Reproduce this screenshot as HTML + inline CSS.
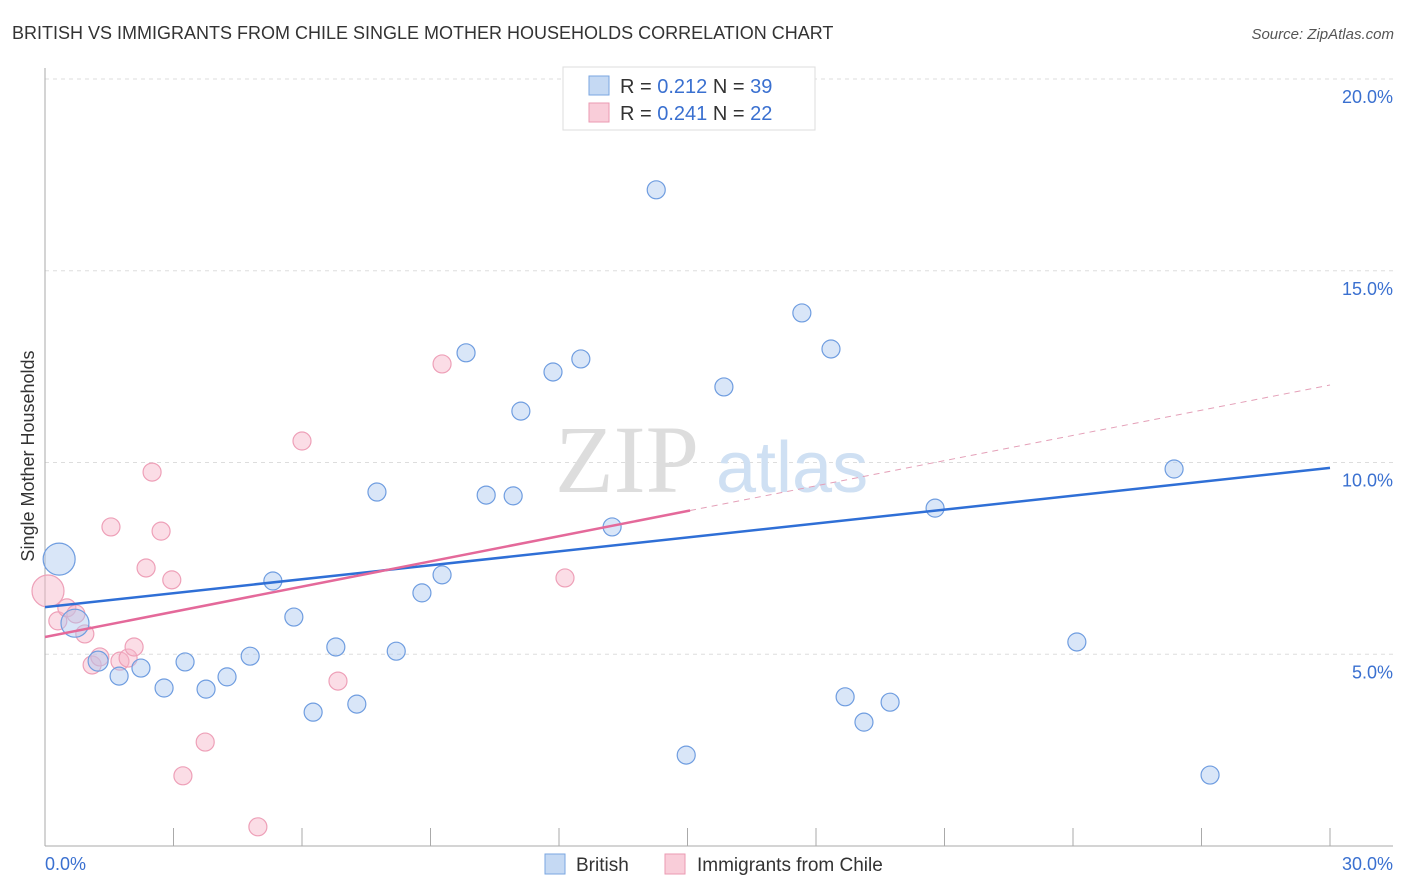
<!DOCTYPE html>
<html><head><meta charset="utf-8"><style>
body{margin:0;background:#fff;font-family:"Liberation Sans",sans-serif}
svg{display:block}
</style></head><body>
<svg width="1406" height="892" xmlns="http://www.w3.org/2000/svg">
<text x="12" y="39" font-size="18" fill="#333">BRITISH VS IMMIGRANTS FROM CHILE SINGLE MOTHER HOUSEHOLDS CORRELATION CHART</text>
<text x="1394" y="39" font-size="15" fill="#555" font-style="italic" text-anchor="end">Source: ZipAtlas.com</text>
<g id="grid"></g>
<text x="555" y="492" font-size="96" fill="#ddd" font-family="Liberation Serif">ZIP</text>
<text x="716" y="492" font-size="72" fill="#cfe0f3">atlas</text>
<text transform="translate(34,456) rotate(-90)" font-size="18" fill="#333" text-anchor="middle">Single Mother Households</text>
<g id="marks"></g>
<g>
<rect x="563" y="67" width="252" height="63" fill="#fff" stroke="#ddd"/>
<rect x="589" y="76" width="20" height="19" fill="#c5d9f3" stroke="#7aa6e0"/>
<rect x="589" y="103" width="20" height="19" fill="#f9cdd9" stroke="#eb9ab2"/>
<text x="620" y="93" font-size="20" fill="#333">R = <tspan fill="#3a70d0">0.212</tspan>   N = <tspan fill="#3a70d0">39</tspan></text>
<text x="620" y="120" font-size="20" fill="#333">R = <tspan fill="#3a70d0">0.241</tspan>   N = <tspan fill="#3a70d0">22</tspan></text>
</g>
<rect x="545" y="854" width="20" height="20" fill="#c5d9f3" stroke="#7aa6e0"/>
<text x="576" y="871" font-size="19" fill="#333">British</text>
<rect x="665" y="854" width="20" height="20" fill="#f9cdd9" stroke="#eb9ab2"/>
<text x="697" y="871" font-size="19" fill="#333">Immigrants from Chile</text>
<text x="45" y="870" font-size="18" fill="#3a70d0">0.0%</text>
<text x="1393" y="870" font-size="18" fill="#3a70d0" text-anchor="end">30.0%</text>
</svg>
<script>
const yTicks=[5,10,15,20];
const yTickLabels=["5.0%","10.0%","15.0%","20.0%"];
const xTicks=[0,3,6,9,12,15,18,21,24,27,30];
const britishX=[0.33,0.70,1.24,1.73,2.24,2.78,3.27,3.76,4.25,4.79,5.32,5.81,6.26,6.79,7.28,7.75,8.20,8.80,9.27,9.83,10.30,10.93,11.11,11.86,12.51,13.24,14.27,14.97,15.85,17.67,18.35,18.68,19.12,19.73,20.78,24.09,26.36,27.20];
const britishY=[7.48,5.81,4.82,4.43,4.64,4.12,4.80,4.09,4.41,4.95,6.91,5.97,3.49,5.19,3.70,9.23,5.08,6.60,7.07,12.86,9.15,9.13,11.34,12.36,12.70,8.32,17.11,2.37,11.97,13.90,12.96,3.89,3.23,3.75,8.81,5.32,9.83,1.85];
const britishR=[16,14,10,9,9,9,9,9,9,9,9,9,9,9,9,9,9,9,9,9,9,9,9,9,9,9,9,9,9,9,9,9,9,9,9,9,9,9];
const chileX=[0.07,0.30,0.51,0.72,0.93,1.10,1.28,1.54,1.75,1.94,2.08,2.36,2.50,2.71,2.96,3.22,3.74,4.97,6.00,6.84,9.27,12.14,12.89];
const chileY=[6.65,5.87,6.21,6.05,5.53,4.72,4.93,8.32,4.82,4.90,5.19,7.25,9.75,8.21,6.94,1.83,2.71,0.50,10.56,4.30,12.57,6.99,19.19];
const chileR=[16,9,9,9,9,9,9,9,9,9,9,9,9,9,9,9,9,9,9,9,9,9,9];
const britishTrend=[6.23,9.86];
const chileTrend=[5.45,12.02];
const chileSolidEnd=15.06;
const NS="http://www.w3.org/2000/svg";
const X=v=>45+v*(1330-45)/30;
const Y=v=>846-v*(846-79)/20;
function mk(tag,attrs,parent){const e=document.createElementNS(NS,tag);for(const k in attrs)e.setAttribute(k,attrs[k]);parent.appendChild(e);return e;}
const grid=document.getElementById('grid');
yTicks.forEach((t,i)=>{
 const l=mk('line',{x1:45,x2:1393,y1:Y(t),y2:Y(t),stroke:'#ddd','stroke-dasharray':'4,4'},grid);
 
 
 const tx=mk('text',{x:1393,y:Y(t)+24,'font-size':18,fill:'#3a70d0','text-anchor':'end'},grid);
 tx.textContent=yTickLabels[i];
 
 
});
const ax=mk('line',{x1:45,x2:45,y1:68,y2:846,stroke:'#aaa'},grid);


const bx=mk('line',{x1:45,x2:1393,y1:846,y2:846,stroke:'#aaa'},grid);


xTicks.forEach(t=>{
 const l=mk('line',{x1:X(t),x2:X(t),y1:828,y2:846,stroke:'#aaa'},grid);
 
 
});
const marks=document.getElementById('marks');
chileX.forEach((v,i)=>{
 const c=mk('circle',{cx:X(v),cy:Y(chileY[i]),r:chileR[i],fill:'rgba(247,180,200,0.45)',stroke:'#eea0b8','stroke-width':1.2},marks);
 
 
});
britishX.forEach((v,i)=>{
 const c=mk('circle',{cx:X(v),cy:Y(britishY[i]),r:britishR[i],fill:'rgba(170,200,240,0.45)',stroke:'#6f9de0','stroke-width':1.2},marks);
 
 
});
const bt=mk('line',{x1:X(0),y1:Y(britishTrend[0]),x2:X(30),y2:Y(britishTrend[1]),stroke:'#2f6fd6','stroke-width':2.5},marks);


const cy=v=>chileTrend[0]+(chileTrend[1]-chileTrend[0])*v/30;
const ct=mk('line',{x1:X(0),y1:Y(chileTrend[0]),x2:X(chileSolidEnd),y2:Y(cy(chileSolidEnd)),stroke:'#e4699a','stroke-width':2.5},marks);


const cd=mk('line',{x1:X(chileSolidEnd),y1:Y(cy(chileSolidEnd)),x2:X(30),y2:Y(chileTrend[1]),stroke:'#e4a0b8','stroke-width':1,'stroke-dasharray':'6,5'},marks);


</script>
</body></html>
